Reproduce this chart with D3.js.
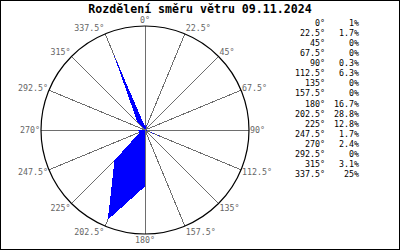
<!DOCTYPE html>
<html>
<head>
<meta charset="utf-8">
<script src="https://cdn.jsdelivr.net/npm/d3@7"></script>
<style>
body{margin:0;background:#fff}
svg{display:block}
.axis-label{font-family:"DejaVu Sans Mono",monospace;font-size:8.3px;fill:#666}
.legend{font-family:"DejaVu Sans Mono",monospace;font-size:8.3px;fill:#000}
.heading{font-family:"DejaVu Sans Mono",monospace;font-size:11.6px;font-weight:bold;fill:#000}
</style>
</head>
<body>
<svg id="wind" width="400" height="250"></svg>
<script>
const title = 'Rozdělení směru větru 09.11.2024';
const directions = [0, 22.5, 45, 67.5, 90, 112.5, 135, 157.5, 180, 202.5, 225, 247.5, 270, 292.5, 315, 337.5];
const percents = [1, 1.7, 0, 0, 0.3, 6.3, 0, 0, 16.7, 28.8, 12.8, 1.7, 2.4, 0, 3.1, 25];
const rMax = 30.8;

const svg = d3.select('#wind');
const width = +svg.attr('width');
const height = +svg.attr('height');

const cx = 145, cy = 130, radius = 104;

const rscale = d3.scaleLinear().domain([0, rMax]).range([0, radius]);
const ascale = d3.scaleLinear().domain([0, 360]).range([0, 2 * Math.PI]);

// frame
svg.append('rect')
    .attr('x', 0.5).attr('y', 0.5)
    .attr('width', width - 1).attr('height', height - 1)
    .attr('fill', '#fff').attr('stroke', '#000');

svg.append('text')
    .attr('class', 'heading')
    .attr('x', width / 2).attr('y', 13)
    .attr('text-anchor', 'middle')
    .text(title);

const g = svg.append('g').attr('transform', `translate(${cx},${cy})`);

// spokes
g.selectAll('line.spoke').data(directions)
    .enter().append('line')
        .attr('class', 'spoke')
        .attr('x1', 0).attr('y1', 0)
        .attr('x2', d => radius * Math.sin(ascale(d)))
        .attr('y2', d => -radius * Math.cos(ascale(d)))
        .attr('stroke', '#6e6e6e')
        .attr('stroke-width', 1)
        .attr('shape-rendering', 'crispEdges');

// outer circle
g.append('circle')
    .attr('r', radius)
    .attr('fill', 'none')
    .attr('stroke', '#000')
    .attr('stroke-width', 1.2);

// wind polygon
const radial = d3.lineRadial()
    .angle(d => ascale(d.dir))
    .radius(d => rscale(d.pct))
    .curve(d3.curveLinearClosed);

g.append('path')
    .datum(directions.map((d, i) => ({dir: d, pct: percents[i]})))
    .attr('d', radial)
    .attr('fill', '#0000ff')
    .attr('stroke', 'none')
    .attr('shape-rendering', 'crispEdges');

// direction labels round the circle
g.selectAll('text.axis-label').data(directions)
    .enter().append('text')
        .attr('class', 'axis-label')
        .attr('x', d => {
            const s = Math.sin(ascale(d));
            return radius * s + (s > 0.01 ? 1 : s < -0.01 ? -1 : 0);
        })
        .attr('y', d => {
            const c = Math.cos(ascale(d));
            return -radius * c - c * 6.3 + 3;
        })
        .attr('text-anchor', d => {
            const s = Math.sin(ascale(d));
            return s > 0.01 ? 'start' : s < -0.01 ? 'end' : 'middle';
        })
        .text(d => `${d}°`);

// legend table
const legend = svg.append('g');
legend.selectAll('text.dir').data(directions)
    .enter().append('text')
        .attr('class', 'legend dir')
        .attr('x', 325)
        .attr('y', (d, i) => 26 + i * 10.07)
        .attr('text-anchor', 'end')
        .text(d => `${d}°`);

legend.selectAll('text.pct').data(percents)
    .enter().append('text')
        .attr('class', 'legend pct')
        .attr('x', 359)
        .attr('y', (d, i) => 26 + i * 10.07)
        .attr('text-anchor', 'end')
        .text(d => `${d}%`);
</script>
</body>
</html>
